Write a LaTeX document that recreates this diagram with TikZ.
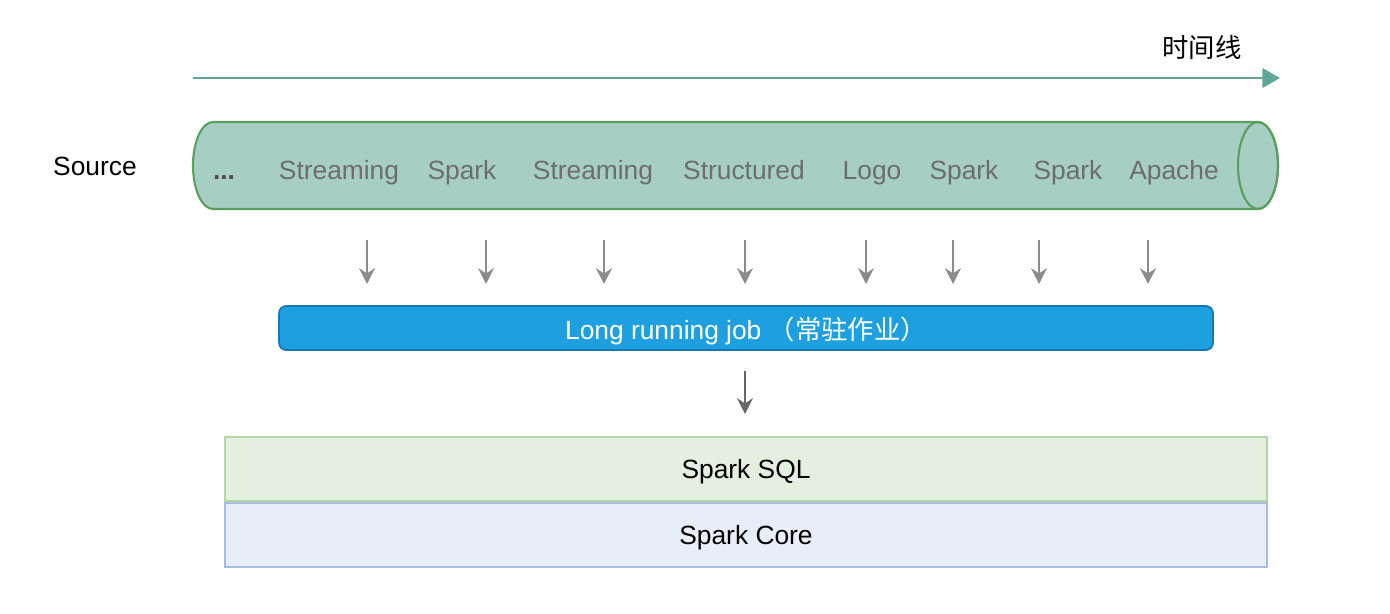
\documentclass[tikz,border=0pt]{standalone}
\usepackage{fontspec}
\setmainfont{Liberation Sans}
\newfontfamily\cjk{Noto Sans CJK SC}
\usepackage{xcolor}
\usetikzlibrary{arrows.meta}

\definecolor{lineteal}{HTML}{5FA897}
\definecolor{pipefill}{HTML}{A7CEC3}
\definecolor{pipeedge}{HTML}{5B9F5E}
\definecolor{itemgray}{HTML}{6D6D6D}
\definecolor{arrowgray}{HTML}{8C8C8C}
\definecolor{jobfill}{HTML}{1EA0E0}
\definecolor{jobedge}{HTML}{1677B3}
\definecolor{sqlfill}{HTML}{E4EFE0}
\definecolor{sqledge}{HTML}{B5D5A5}
\definecolor{corefill}{HTML}{E7EEF9}
\definecolor{coreedge}{HTML}{AABDE0}

\tikzset{
  txt/.style={font=\fontsize{15}{18}\selectfont, inner sep=0pt},
  item/.style={txt, text=itemgray, anchor=base},
  feed/.style={draw=arrowgray, line width=1.2pt, -{Stealth[length=9pt,width=9pt,inset=3pt]}},
  layer/.style={draw, line width=1pt, minimum width=20.84cm, minimum height=1.28cm, txt, text depth=0pt}
}

\begin{document}
\begin{tikzpicture}[x=0.02cm,y=-0.02cm]
    \useasboundingbox (0,0) rectangle (1390,614);

    % Timeline
    \coordinate (tstart) at (193,78);
    \coordinate (tend) at (1280,78);
    \draw[lineteal, line width=1.5pt, -{Triangle[length=10pt,width=11pt]}] (tstart) -- (tend);
    \node[txt] (tlabel) at (1202,47) {\cjk 时间线};

    % Source pipe
    \node[txt] (source) at (95,166) {Source};
    \draw[pipeedge, fill=pipefill, line width=1.2pt]
        (1258,122) -- (213,122)
        arc[start angle=90, end angle=270, x radius=0.4cm, y radius=0.87cm]
        -- (1258,209)
        arc[start angle=-90, end angle=90, x radius=0.4cm, y radius=0.87cm];
    \draw[pipeedge, line width=1.2pt] (1258,165.5) ellipse [x radius=0.4cm, y radius=0.87cm];

    % Items in the pipe
    \node[item, text=black!70, font=\bfseries\fontsize{15}{18}\selectfont] (dots) at (224,180) {...};
    \foreach \name/\x/\word in {s1/339/Streaming, s2/462/Spark, s3/593/Streaming,
        s4/744/Structured, s5/872/Logo, s6/964/Spark, s7/1068/Spark, s8/1174/Apache}
        \node[item] (\name) at (\x,180) {\word};

    % Arrows into the job
    \foreach \i/\x in {1/367, 2/486, 3/604, 4/745, 5/866, 6/953, 7/1039, 8/1148} {
        \coordinate (fa\i) at (\x,240);
        \coordinate (fb\i) at (\x,284);
        \draw[feed] (fa\i) -- (fb\i);
    }

    % Long running job
    \node[draw=jobedge, fill=jobfill, line width=1pt, rounded corners=4pt,
          minimum width=18.68cm, minimum height=0.88cm, txt, text depth=0pt, text=white] (job)
          at (746,328) {Long running job \cjk （常驻作业）};

    \coordinate (ja) at (745,371);
    \coordinate (jb) at (745,414);
    \draw[feed, draw=black!60] (ja) -- (jb);

    % Spark layers
    \node[layer, draw=sqledge, fill=sqlfill] (sql) at (746,469) {Spark SQL};
    \node[layer, draw=coreedge, fill=corefill, anchor=north] (core) at (sql.south) {Spark Core};

\end{tikzpicture}
\end{document}
